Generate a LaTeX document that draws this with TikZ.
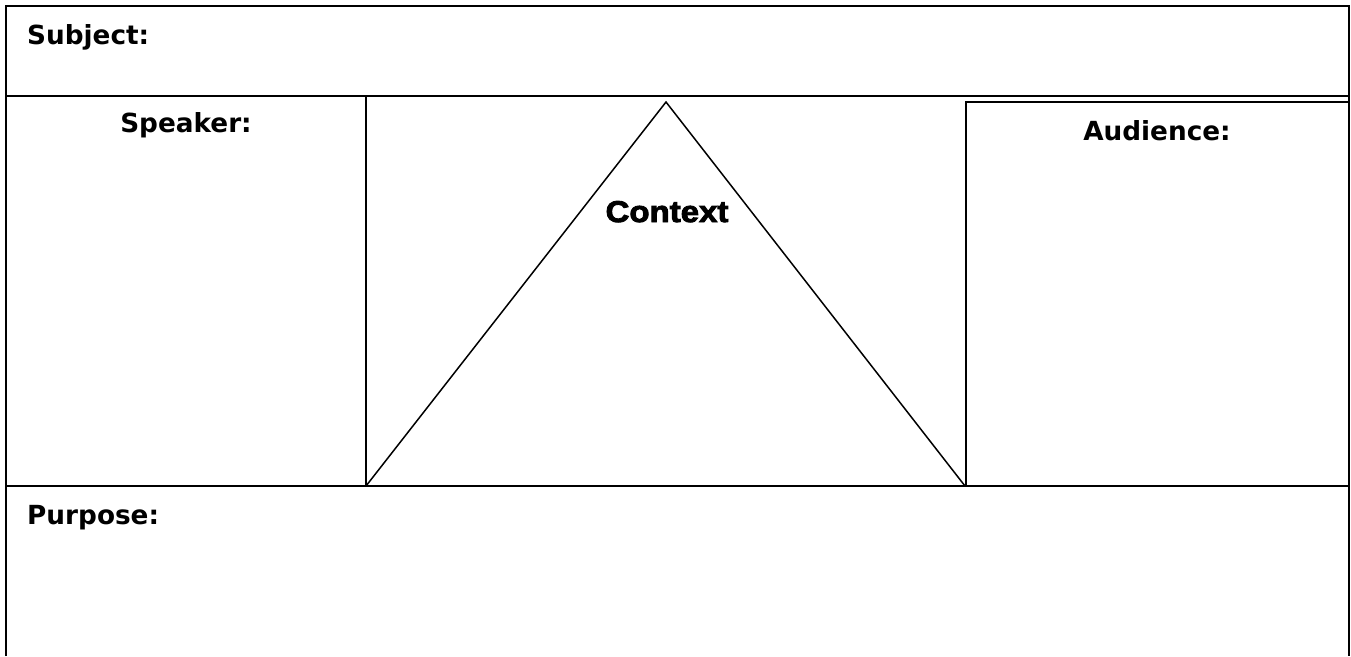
\documentclass[tikz,border=0pt]{standalone}
\usepackage{fontspec}
\setmainfont{DejaVu Sans}
\newfontfamily\ctxfont[FakeStretch=1.1,FakeBold=3]{Liberation Sans}
\usepackage{tikz}
\usetikzlibrary{positioning}

\begin{document}
\begin{tikzpicture}[x=1pt,y=-1pt,
  frame/.style={line width=2pt},
  slope/.style={line width=1.5pt,line join=miter},
  label/.style={font=\fontsize{26.3}{30}\selectfont\bfseries,inner sep=0pt,anchor=base},
  ctx/.style={font=\ctxfont\fontsize{30}{34}\selectfont\bfseries,inner sep=0pt,anchor=base}]
\useasboundingbox (0,0) rectangle (1351,656);
% outer frame and rows
\draw[frame] (6,656) -- (6,6) -- (1349,6) -- (1349,656);
\draw[frame] (6,96) -- (1349,96);
\draw[frame] (6,486) -- (1349,486);
\draw[frame] (366,96) -- (366,486);
% audience box
\draw[frame] (966,486) -- (966,102) -- (1349,102);
% context triangle
\coordinate (apex) at (666,102);
\coordinate (bl) at (366,486);
\coordinate (br) at (965,486);
\draw[slope] (bl) -- (apex) -- (br);
% labels
\node[label,anchor=base west] (subj) at (27,44) {Subject:};
\node[label] (spk) at (186,132) {Speaker:};
\node[label] (aud) at (1157,140) {Audience:};
\node[ctx] (cont) at (667,222) {Context};
\node[label,anchor=base west] (purp) at (27,524) {Purpose:};
\end{tikzpicture}
\end{document}
